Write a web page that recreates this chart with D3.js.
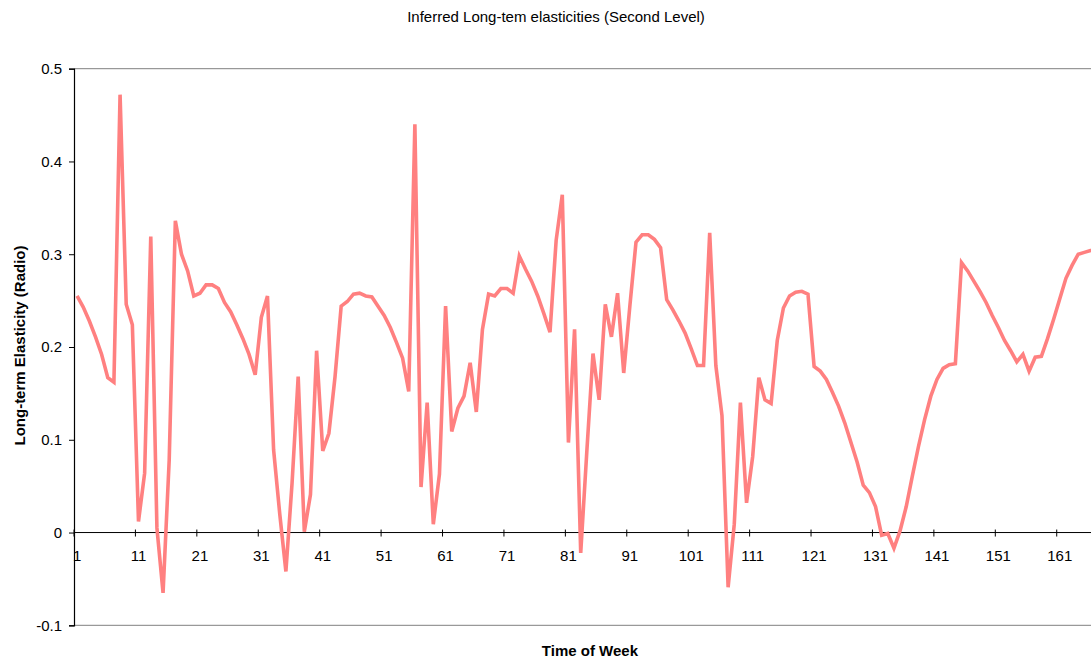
<!DOCTYPE html>
<html>
<head>
<meta charset="utf-8">
<script src="https://cdn.jsdelivr.net/npm/d3@7"></script>
<style>
  body { margin: 0; background: #fff; }
  svg { display: block; font-family: "Liberation Sans", Arial, sans-serif; }
</style>
</head>
<body>
<div id="chart"></div>
<script>
// hours of the week, one value per hour
const hours = d3.range(1, 169);
const elasticity = [
  0.255, 0.243, 0.228, 0.211, 0.192, 0.167, 0.162, 0.472, 0.246, 0.224,
  0.012, 0.064, 0.319, 0.005, -0.065, 0.078, 0.336, 0.300, 0.282, 0.255,
  0.258, 0.267, 0.267, 0.263, 0.248, 0.238, 0.224, 0.209, 0.192, 0.170,
  0.232, 0.255, 0.089, 0.020, -0.042, 0.053, 0.168, 0.001, 0.041, 0.196,
  0.088, 0.107, 0.168, 0.244, 0.249, 0.257, 0.258, 0.255, 0.254, 0.244,
  0.234, 0.221, 0.205, 0.188, 0.152, 0.440, 0.049, 0.140, 0.009, 0.063,
  0.244, 0.109, 0.134, 0.147, 0.183, 0.130, 0.219, 0.257, 0.255, 0.263,
  0.263, 0.258, 0.298, 0.284, 0.271, 0.255, 0.236, 0.216, 0.315, 0.364,
  0.097, 0.219, -0.022, 0.088, 0.193, 0.143, 0.246, 0.211, 0.258, 0.172,
  0.244, 0.313, 0.321, 0.321, 0.316, 0.307, 0.251, 0.240, 0.228, 0.215,
  0.198, 0.180, 0.180, 0.323, 0.180, 0.126, -0.059, 0.009, 0.140, 0.032,
  0.082, 0.167, 0.143, 0.139, 0.207, 0.242, 0.255, 0.259, 0.260, 0.257,
  0.179, 0.174, 0.165, 0.151, 0.136, 0.118, 0.097, 0.076, 0.051, 0.043,
  0.028, -0.003, -0.001, -0.017, 0.002, 0.028, 0.061, 0.093, 0.122, 0.147,
  0.165, 0.177, 0.181, 0.182, 0.291, 0.282, 0.271, 0.260, 0.248, 0.234,
  0.221, 0.207, 0.196, 0.184, 0.192, 0.174, 0.189, 0.190, 0.209, 0.230,
  0.252, 0.274, 0.288, 0.300, 0.302, 0.304, 0.305, 0.306
];
const xTickLabels = [1, 11, 21, 31, 41, 51, 61, 71, 81, 91, 101, 111, 121, 131, 141, 151, 161];
const yTicks = [-0.1, 0, 0.1, 0.2, 0.3, 0.4, 0.5];
const yTickText = ["-0.1", "0", "0.1", "0.2", "0.3", "0.4", "0.5"];

const width = 1091, height = 662;
const plotLeft = 74, plotTop = 68.7, plotBottom = 625.3;
const step = 6.142;   // width of one hour on the category axis
const plotRight = plotLeft + hours.length * step;  // plot runs past the picture edge
const fontSize = 15;

let svg = d3.select("#chart").append("svg")
    .attr("width", width)
    .attr("height", height);

svg.append("rect").attr("width", width).attr("height", height).attr("fill", "#fff");

// categories sit between tick marks, so the domain is offset by half a step
let x = d3.scaleLinear().domain([0.5, hours.length + 0.5]).range([plotLeft, plotRight]);
let y = d3.scaleLinear().domain([-0.1, 0.5]).range([plotBottom, plotTop]);

// plot area border (top and bottom)
svg.append("line").attr("x1", plotLeft).attr("x2", plotRight).attr("y1", plotTop).attr("y2", plotTop)
    .attr("stroke", "#808080").attr("stroke-width", 1);
svg.append("line").attr("x1", plotLeft).attr("x2", plotRight).attr("y1", plotBottom).attr("y2", plotBottom)
    .attr("stroke", "#808080").attr("stroke-width", 1);

// y axis
let yAxis = svg.append("g")
    .attr("transform", "translate(" + plotLeft + ",0)")
    .call(d3.axisLeft(y).tickValues(yTicks).tickSize(5).tickPadding(7)
        .tickFormat((d, i) => yTickText[i]));
yAxis.select(".domain").attr("stroke", "#000").attr("stroke-width", 1.2);
yAxis.selectAll(".tick line").attr("stroke", "#000");
yAxis.selectAll("text").attr("font-size", fontSize).attr("fill", "#000")
    .attr("font-family", "Liberation Sans, Arial, sans-serif");

// x axis at zero: crossing tick marks on category boundaries
let zeroY = y(0);
let xAxis = svg.append("g").attr("transform", "translate(0," + zeroY + ")");
xAxis.append("line").attr("x1", plotLeft).attr("x2", plotRight).attr("stroke", "#000").attr("stroke-width", 1);
xAxis.selectAll(".tick-mark")
    .data(xTickLabels)
    .enter().append("line")
    .attr("class", "tick-mark")
    .attr("x1", d => x(d - 0.5)).attr("x2", d => x(d - 0.5))
    .attr("y1", -3).attr("y2", 4)
    .attr("stroke", "#000");
xAxis.selectAll(".tick-label")
    .data(xTickLabels)
    .enter().append("text")
    .attr("class", "tick-label")
    .attr("x", d => x(d))
    .attr("y", 28)
    .attr("text-anchor", "middle")
    .attr("font-size", fontSize)
    .attr("fill", "#000")
    .text(d => d);

// the series
let line = d3.line()
    .x((d, i) => x(hours[i]))
    .y(d => y(d));

svg.append("path")
    .datum(elasticity)
    .attr("d", line)
    .attr("fill", "none")
    .attr("stroke", "#FF8080")
    .attr("stroke-width", 3.6)
    .attr("stroke-linejoin", "miter")
    .attr("stroke-miterlimit", 4);

// titles
svg.append("text")
    .attr("x", 556).attr("y", 22)
    .attr("text-anchor", "middle")
    .attr("font-size", fontSize)
    .text("Inferred Long-tem elasticities (Second Level)");

svg.append("text")
    .attr("x", (plotLeft + plotRight) / 2).attr("y", 656)
    .attr("text-anchor", "middle")
    .attr("font-size", fontSize)
    .attr("font-weight", "bold")
    .text("Time of Week");

svg.append("text")
    .attr("transform", "translate(25," + 345.5 + ") rotate(-90)")
    .attr("text-anchor", "middle")
    .attr("font-size", fontSize)
    .attr("font-weight", "bold")
    .text("Long-term Elasticity (Radio)");
</script>
</body>
</html>
